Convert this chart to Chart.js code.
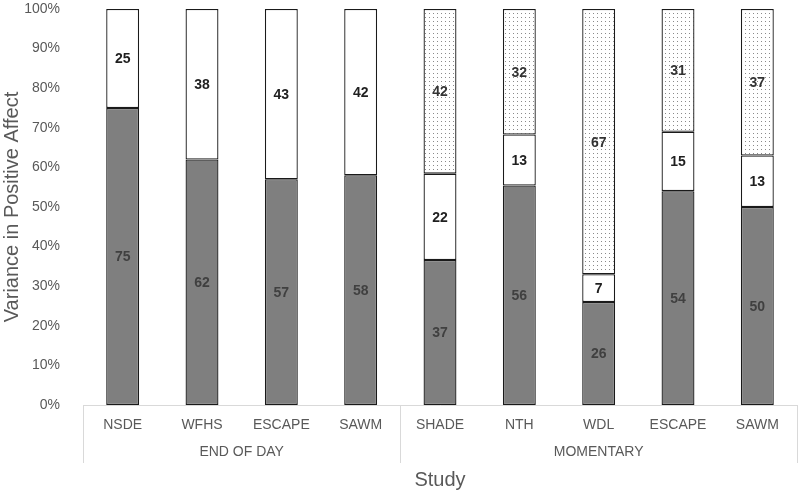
<!DOCTYPE html>
<html>
<head>
<meta charset="utf-8">
<script src="https://cdn.jsdelivr.net/npm/chart.js@4/dist/chart.umd.min.js"></script>
<style>
  html, body { margin: 0; padding: 0; background: #fff; }
  #wrap { width: 800px; height: 494px; }
</style>
</head>
<body>
<div id="wrap"><canvas id="chart"></canvas></div>
<script>
// Data
const studies = ['NSDE', 'WFHS', 'ESCAPE', 'SAWM', 'SHADE', 'NTH', 'WDL', 'ESCAPE', 'SAWM'];
const groups = ['END OF DAY', 'MOMENTARY'];
const groupSizes = [4, 5];
const darkPart = [75, 62, 57, 58, 37, 56, 26, 54, 50];
const whitePart = [25, 38, 43, 42, 22, 13, 7, 15, 13];
const dottedPart = [0, 0, 0, 0, 42, 32, 67, 31, 37];
const yTicks = [0, 10, 20, 30, 40, 50, 60, 70, 80, 90, 100];

const FONT = "'Liberation Sans', Arial, sans-serif";

// Excel-like 100% stacking: each bar scaled to its own total
const totals = studies.map((_, i) => darkPart[i] + whitePart[i] + dottedPart[i]);
const share = arr => arr.map((v, i) => v * 100 / totals[i]);

// small dotted fill
function dotPattern() {
    const c = document.createElement('canvas');
    c.width = 4; c.height = 4;
    const g = c.getContext('2d');
    g.fillStyle = '#ffffff';
    g.fillRect(0, 0, 4, 4);
    g.fillStyle = '#8a8a8a';
    g.fillRect(1, 1, 1, 1);
    return g.createPattern(c, 'repeat');
}

// value labels in the middle of each segment
const segmentLabels = {
    id: 'segmentLabels',
    afterDatasetsDraw(chart) {
        const ctx = chart.ctx;
        const raw = [darkPart, whitePart, dottedPart];
        const colors = ['#404040', '#1f1f1f', '#333333'];
        ctx.save();
        ctx.font = "bold 14px " + FONT;
        ctx.textAlign = 'center';
        ctx.textBaseline = 'middle';
        chart.data.datasets.forEach((ds, di) => {
            chart.getDatasetMeta(di).data.forEach((bar, i) => {
                const v = raw[di][i];
                if (!v) return;
                const p = bar.getProps(['x', 'y', 'base'], true);
                ctx.fillStyle = colors[di];
                ctx.fillText(String(v), p.x, (p.y + p.base) / 2 + 1);
            });
        });
        ctx.restore();
    }
};

// second level of the category axis: group names and separators
const groupAxis = {
    id: 'groupAxis',
    afterDraw(chart) {
        const ctx = chart.ctx;
        const x = chart.scales.x;
        const area = chart.chartArea;
        const step = x.getPixelForValue(1) - x.getPixelForValue(0);
        const top = area.bottom;
        const bottom = area.bottom + 58;
        ctx.save();
        ctx.strokeStyle = '#d9d9d9';
        ctx.lineWidth = 1;
        ctx.font = "14px " + FONT;
        ctx.fillStyle = '#595959';
        ctx.textAlign = 'center';
        ctx.textBaseline = 'middle';
        let start = 0;
        groups.forEach((name, gi) => {
            const left = x.getPixelForValue(start) - step / 2;
            const right = x.getPixelForValue(start + groupSizes[gi] - 1) + step / 2;
            [left, right].forEach(px => {
                ctx.beginPath();
                ctx.moveTo(Math.round(px) + 0.5, top);
                ctx.lineTo(Math.round(px) + 0.5, bottom);
                ctx.stroke();
            });
            ctx.fillText(name, (left + right) / 2, area.bottom + 47);
            start += groupSizes[gi];
        });
        ctx.restore();
    }
};

const barOpts = {
    borderColor: '#1a1a1a',
    borderWidth: 1.3,
    borderSkipped: false,
    barPercentage: 0.415,
    categoryPercentage: 1
};

new Chart(document.getElementById('chart'), {
    type: 'bar',
    data: {
        labels: studies,
        datasets: [
            Object.assign({ label: 'Between', data: share(darkPart), backgroundColor: '#7f7f7f' }, barOpts),
            Object.assign({ label: 'Within day', data: share(whitePart), backgroundColor: '#ffffff' }, barOpts),
            Object.assign({ label: 'Within moment', data: share(dottedPart), backgroundColor: dotPattern() }, barOpts)
        ]
    },
    options: {
        responsive: true,
        maintainAspectRatio: false,
        animation: false,
        layout: { padding: { top: 9, right: 3, left: 0, bottom: 0 } },
        plugins: {
            legend: { display: false },
            tooltip: { enabled: false }
        },
        scales: {
            x: {
                stacked: true,
                grid: { display: false },
                border: { display: true, color: '#d9d9d9', width: 1 },
                ticks: { color: '#595959', font: { family: FONT, size: 14 }, padding: 4, maxRotation: 0 },
                title: { display: true, text: 'Study', color: '#595959', font: { family: FONT, size: 20 }, padding: { top: 0, bottom: 2 } },
                afterFit: s => { s.height = 89; }
            },
            y: {
                stacked: true,
                min: 0,
                max: 100,
                grid: { display: false },
                border: { display: false },
                afterBuildTicks: s => { s.ticks = yTicks.map(v => ({ value: v })); },
                ticks: {
                    color: '#595959',
                    font: { family: FONT, size: 14 },
                    padding: 15,
                    callback: v => v + '%'
                },
                title: { display: true, text: 'Variance in Positive Affect', color: '#595959', font: { family: FONT, size: 20 }, padding: { top: 0, bottom: 3 } },
                // tick padding also pads the top of the axis; undo that
                afterFit: s => { s.width = 83; s.paddingTop = 9; s.paddingBottom = 0; }
            }
        }
    },
    plugins: [segmentLabels, groupAxis]
});
</script>
</body>
</html>
